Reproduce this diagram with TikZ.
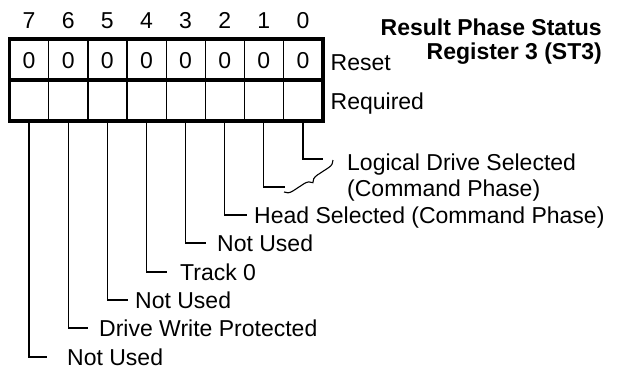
\documentclass[tikz,border=0pt]{standalone}
\usepackage{fontspec}
\setmainfont{Liberation Sans}
\usetikzlibrary{decorations.pathreplacing}
\begin{document}
\begin{tikzpicture}[x=1pt,y=-1pt,
  lbl/.style={inner sep=0pt,text height=16.5pt,text depth=0pt,font=\fontsize{23}{27}\selectfont},
  lw/.style={lbl,anchor=west},
  ttl/.style={lbl,anchor=east,font=\fontsize{23}{27}\selectfont\bfseries},
  cell/.style={inner sep=0pt,minimum width=39.125pt,minimum height=41pt},
  thin/.style={line width=1.2pt},
  thick/.style={line width=3.6pt}]
\useasboundingbox (0,0) rectangle (620,369);
% cells
\foreach \b [count=\c from 0] in {7,6,5,4,3,2,1,0} {
  \pgfmathsetmacro{\xc}{9.5+39.125*\c+19.5625}
  \node[cell] (r\b) at (\xc,59.5) {};
  \node[cell] (q\b) at (\xc,100) {};
  \node[lbl] (n\b) at (\xc,20) {\b};
  \node[lbl] (z\b) at (\xc,60) {0};
}
% inner separators
\foreach \b in {7,6,5,4,3,2,1} {
  \draw[thin] (r\b.north east) -- (q\b.south east);
}
% outer frame and middle rule
\draw[thick] (r7.north west) rectangle (q0.south east);
\draw[thick] (r7.south west) -- (r0.south east);
% side labels
\node[lw] (reset) at (330.5,62) {Reset};
\node[lw] (req) at (330.5,101.5) {Required};
\node[ttl] (t1) at (602,27) {Result Phase Status};
\node[ttl] (t2) at (602,51) {Register 3 (ST3)};
% leader ends
\coordinate (e7) at (47,357);
\coordinate (e6) at (88,328);
\coordinate (e5) at (128,300);
\coordinate (e4) at (167,272);
\coordinate (e3) at (206,243);
\coordinate (e2) at (247,215);
\coordinate (e1) at (285,187);
\coordinate (e0) at (323,159);
\node[lw] (l7) at (67,357) {Not Used};
\node[lw] (l6) at (99,328) {Drive Write Protected};
\node[lw] (l5) at (135,300) {Not Used};
\node[lw] (l4) at (180,272) {Track 0};
\node[lw] (l3) at (217,243) {Not Used};
\node[lw] (l2) at (254,215) {Head Selected (Command Phase)};
\node[lw] (l0a) at (347,162) {Logical Drive Selected};
\node[lw] (l0b) at (347,188) {(Command Phase)};
\foreach \b in {7,6,5,4,3,2,1,0} {
  \draw[thin] (q\b.south) |- (e\b);
}
% brace
\coordinate (ba) at (333,160);
\coordinate (bb) at (284,192);
\draw[line width=1.1pt,decorate,decoration={brace,amplitude=8pt}] (ba) -- (bb);
\end{tikzpicture}
\end{document}
